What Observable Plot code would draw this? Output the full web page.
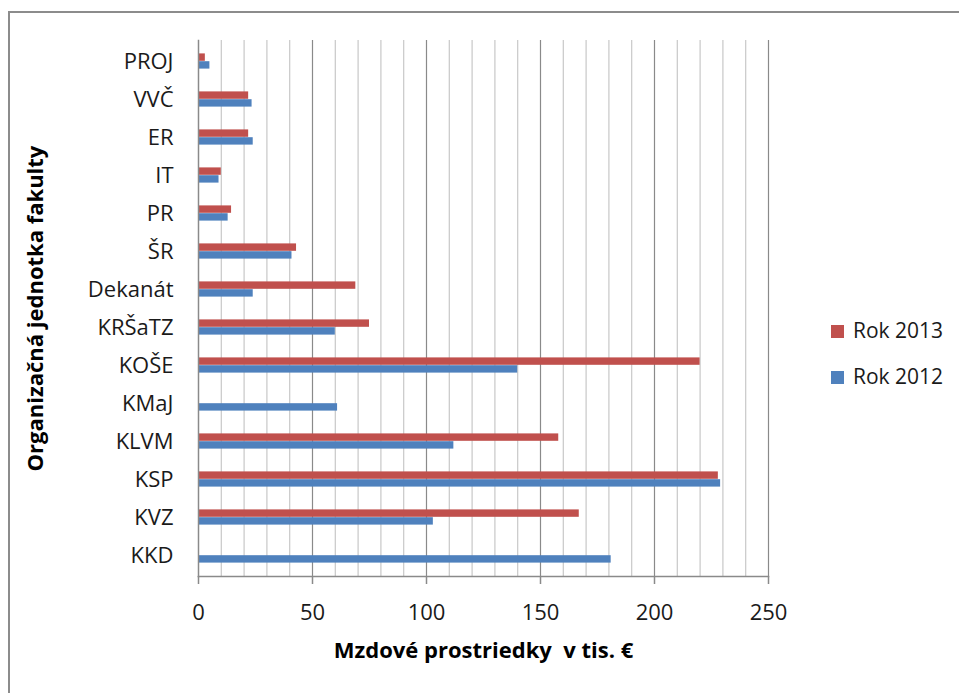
<!DOCTYPE html>
<html>
<head>
<meta charset="utf-8">
<script src="https://cdn.jsdelivr.net/npm/d3@7"></script>
<script src="https://cdn.jsdelivr.net/npm/@observablehq/plot@0.6"></script>
<style>
  html, body { margin: 0; padding: 0; background: #fff; overflow: hidden; }
  body { width: 959px; height: 693px; position: relative; font-family: "Open Sans", sans-serif; }
  #frame { position: absolute; left: 8px; top: 11px; width: 1000px; height: 1000px; border: 2px solid #8c8c8c; box-sizing: border-box; }
  #chart { position: absolute; left: 0; top: 0; }
  .legend { position: absolute; left: 831px; font-size: 21px; color: #1a1a1a; line-height: 1; }
  .legend span.sw { display: inline-block; width: 13px; height: 13px; margin-right: 9px; vertical-align: 0px; }
</style>
</head>
<body>
<div id="frame"></div>
<div id="chart"></div>
<div class="legend" style="top:320px"><span class="sw" style="background:#C0504D"></span>Rok 2013</div>
<div class="legend" style="top:366px"><span class="sw" style="background:#4F81BD"></span>Rok 2012</div>
<script>
const categories = ["PROJ", "VVČ", "ER", "IT", "PR", "ŠR", "Dekanát", "KRŠaTZ", "KOŠE", "KMaJ", "KLVM", "KSP", "KVZ", "KKD"];
const rok2013 = [3, 22, 22, 10, 14.5, 43, 69, 75, 220, null, 158, 228, 167, null];
const rok2012 = [5, 23.5, 24, 9, 13, 41, 24, 60, 140, 61, 112, 229, 103, 181];
const xTicks = [0, 50, 100, 150, 200, 250];
const minorTicks = d3.range(10, 250, 10).filter(v => v % 50 !== 0);
const xTitle = "Mzdové prostriedky  v tis. €";
const yTitle = "Organizačná jednotka fakulty";

const data2013 = categories.map((c, i) => ({cat: c, v: rok2013[i]})).filter(d => d.v != null);
const data2012 = categories.map((c, i) => ({cat: c, v: rok2012[i]})).filter(d => d.v != null);

const chart = Plot.plot({
  width: 959,
  height: 693,
  marginLeft: 198,
  marginRight: 191,
  marginTop: 40,
  marginBottom: 117,
  style: {fontFamily: "'Open Sans', sans-serif", color: "#1a1a1a", background: "transparent", whiteSpace: "pre"},
  x: {domain: [0, 250]},
  y: {domain: categories, padding: 0},
  marks: [
    Plot.ruleX(minorTicks, {stroke: "#c8c8c8", strokeWidth: 1.2}),
    Plot.ruleX(xTicks.slice(1), {stroke: "#8a8a8a", strokeWidth: 1.2}),
    Plot.barX(data2013, {x: "v", y: "cat", fill: "#C0504D", insetTop: 11.4, insetBottom: 19.2}),
    Plot.barX(data2012, {x: "v", y: "cat", fill: "#4F81BD", insetTop: 19.2, insetBottom: 11.4}),
    Plot.frame({anchor: "bottom", stroke: "#8a8a8a", strokeWidth: 1.5}),
    Plot.frame({anchor: "left", stroke: "#8a8a8a", strokeWidth: 1.5}),
    Plot.axisX({ticks: xTicks, tickSize: 8, tickPadding: 20, fontSize: 22, stroke: "#8a8a8a", strokeWidth: 1.5, label: null, tickFormat: d => String(d)}),
    Plot.axisY({tickSize: 0, tickPadding: 25, fontSize: 22, label: null}),
    Plot.text([xTitle], {frameAnchor: "bottom", dy: 81, fontSize: 22, fontWeight: "bold", fill: "#000"}),
    Plot.text([yTitle], {frameAnchor: "left", textAnchor: "middle", dx: -163, rotate: -90, fontSize: 22, fontWeight: "bold", fill: "#000"})
  ]
});
document.getElementById("chart").appendChild(chart);
</script>
</body>
</html>
